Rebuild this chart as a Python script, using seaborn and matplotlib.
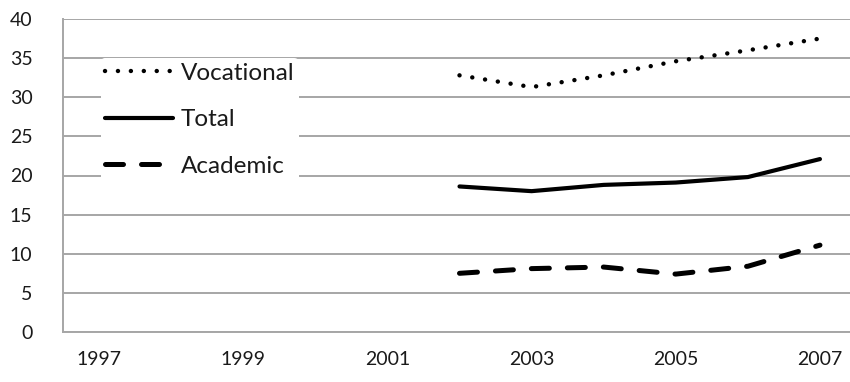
import pandas as pd
import seaborn as sns
import matplotlib.pyplot as plt
from matplotlib.lines import Line2D

years = [2002, 2003, 2004, 2005, 2006, 2007]
vocational = [32.8, 31.3, 32.8, 34.6, 36.0, 37.5]
total = [18.6, 18.0, 18.8, 19.1, 19.8, 22.1]
academic = [7.5, 8.1, 8.3, 7.4, 8.4, 11.1]
series_names = ['Vocational', 'Total', 'Academic']
xticks = [1997, 1999, 2001, 2003, 2005, 2007]

df = pd.DataFrame({
    'year': years * 3,
    'value': vocational + total + academic,
    'series': [s for s in series_names for _ in years],
})

sns.set_style('white')
plt.rcParams['font.family'] = ['Lato', 'DejaVu Sans']

fig = plt.figure(figsize=(8.5, 3.82), dpi=100)
ax = fig.add_axes([63 / 850, 50 / 382, 793 / 850, 313 / 382])

styles = {
    'Vocational': dict(linestyle=(0, (0.01, 2.9)), linewidth=3.2, dash_capstyle='round'),
    'Total': dict(linestyle='-', linewidth=3.0, solid_capstyle='round'),
    'Academic': dict(linestyle=(0, (3.6, 3.6)), linewidth=3.6, dash_capstyle='round'),
}

for name in series_names:
    sub = df[df['series'] == name]
    sns.lineplot(data=sub, x='year', y='value', ax=ax, color='black',
                 legend=False, **styles[name])

ax.set_xlim(1996.5, 2007.5)
ax.set_ylim(0, 40)
ax.set_yticks(range(0, 41, 5))
ax.set_xticks(xticks)
ax.set_xlabel('')
ax.set_ylabel('')
ax.grid(axis='y', color='#a6a6a6', linewidth=1.4)
ax.set_axisbelow(True)
for side in ['top', 'right']:
    ax.spines[side].set_visible(False)
for side in ['left', 'bottom']:
    ax.spines[side].set_color('#a6a6a6')
    ax.spines[side].set_linewidth(1.4)
ax.tick_params(axis='both', length=0, labelsize=14, colors='#1a1a1a')
ax.tick_params(axis='x', pad=14)
ax.tick_params(axis='y', pad=22)

handles = [Line2D([0], [0], color='black', **styles[n]) for n in series_names]
leg = ax.legend(handles, series_names, loc='upper left', bbox_to_anchor=(0.032, 0.915),
                frameon=True, facecolor='white', edgecolor='none', framealpha=1,
                fontsize=17.5, handlelength=2.8, handletextpad=0.3, labelspacing=1.05,
                borderpad=0.2)
for t in leg.get_texts():
    t.set_color('#1a1a1a')

fig.savefig('out.png', dpi=100)
